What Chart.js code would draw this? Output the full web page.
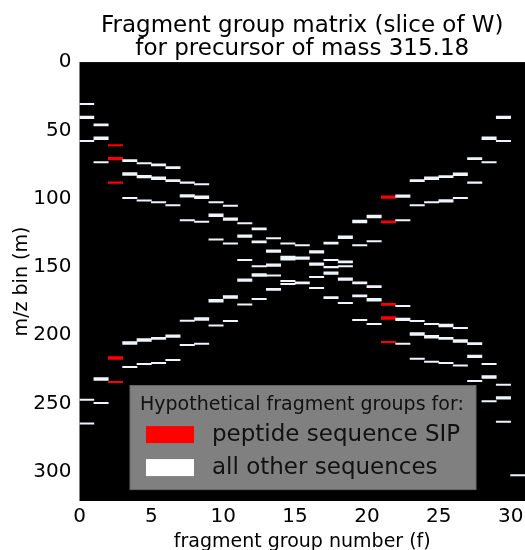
<!DOCTYPE html>
<html>
<head>
<meta charset="utf-8">
<script src="https://cdn.jsdelivr.net/npm/chart.js@4/dist/chart.umd.min.js"></script>
<style>
  html, body { margin: 0; padding: 0; background: #fff; overflow: hidden; }
  #wrap { width: 525px; height: 550px; }
</style>
</head>
<body>
<div id="wrap"><canvas id="matrixChart" width="525" height="550"></canvas></div>
<script>
// fragment group number (f) for each column of the slice
const groupNumbers = [0, 1, 2, 3, 4, 5, 6, 7, 8, 9, 10, 11, 12, 13, 14, 15, 16, 17, 18, 19, 20, 21, 22, 23, 24, 25, 26, 27, 28, 29, 30];

// per column: [m/z bin centre, number of bins]
const otherBins = [
  [[30.7, 1], [40.5, 2], [57.8, 1], [247.3, 1], [264.8, 1]],
  [[46, 1.5], [55.8, 2], [73.4, 1], [232.1, 2], [249.7, 1]],
  [],
  [[72.2, 1.5], [82, 2], [99.6, 1], [205.8, 2], [223.4, 1]],
  [[74.1, 1], [83.9, 2], [101.4, 1], [203.6, 2], [221.1, 1]],
  [[75.3, 1.5], [85.1, 2], [102.6, 1], [202.4, 1.5], [220.4, 1]],
  [[77.3, 1.5], [86.8, 1.5], [104.8, 1], [200.7, 2], [218.3, 1]],
  [[88.3, 1], [98, 2], [115.8, 1], [189.5, 1], [207.3, 1]],
  [[89.5, 1], [99, 2], [117, 1], [188.2, 2], [206.3, 1]],
  [[102.6, 1], [112.2, 2], [130, 1], [174.8, 2], [192.9, 1]],
  [[105.3, 1], [115, 2], [132.9, 1], [172.1, 2], [189.7, 1]],
  [[118, 1], [127.5, 2], [145, 1], [159.7, 2], [177.5, 1]],
  [[122.2, 1.5], [131.7, 1.5], [149.5, 1], [156, 2], [173.6, 1]],
  [[129, 1], [138.5, 2], [148.7, 2], [156.3, 1], [166.5, 1.5]],
  [[132.9, 1], [143.6, 3], [160.4, 1], [162.6, 1]],
  [[134.1, 1], [143.6, 2], [161.7, 1.5]],
  [[139, 2], [148, 2], [157.5, 1], [165.5, 1]],
  [[132.6, 1.5], [145, 1], [150.2, 1], [154.6, 2], [172.6, 1.5]],
  [[128.3, 2], [146.3, 1.5], [149.5, 1], [159, 2], [176.5, 1]],
  [[116.8, 2], [134.1, 1], [161.7, 1.5], [171.2, 1.5], [189, 1]],
  [[113.1, 2], [131.2, 1], [164.4, 1.5], [174.1, 2], [191.9, 1]],
  [],
  [[98.2, 2], [115.8, 1], [178.7, 1], [188.5, 2], [206.3, 1]],
  [[86.8, 1.5], [104.8, 1], [189.6, 1], [199.2, 2], [217.3, 1]],
  [[85.1, 2], [102.6, 1], [191.9, 1], [201.2, 2], [219.5, 1]],
  [[83.9, 1.5], [101.7, 2], [193, 2], [202.4, 1.5], [220.4, 1]],
  [[82.2, 2], [99.6, 1], [194.7, 1], [204.3, 2], [222.2, 1]],
  [[70.7, 1.5], [88.3, 1], [206.3, 1.5], [215.6, 2], [233.6, 1]],
  [[55.8, 2], [73.4, 1], [221.1, 1], [230.7, 2], [248.5, 1]],
  [[40.5, 2], [57.8, 1], [236.4, 1], [246, 2], [263.5, 1]],
  [[302.6, 1]]
];

// groups for the peptide sequence SIP (columns 2 and 21)
const sipBins = [
  [], [],
  [[61, 1], [70.7, 2], [88.3, 1], [216.8, 2], [234.3, 1]],
  [], [], [], [], [], [], [], [], [], [], [], [], [], [], [], [], [], [],
  [[98.9, 2], [117, 1.5], [177.5, 1.5], [187.5, 2], [205.1, 1]],
  [], [], [], [], [], [], [], [], []
];

const xTicks = [0, 5, 10, 15, 20, 25, 30];
const yTicks = [0, 50, 100, 150, 200, 250, 300];
const seriesNames = ["peptide sequence SIP", "all other sequences"];
const legendTitle = "Hypothetical fragment groups for:";

function toBars(bins) {
  const out = [];
  groupNumbers.forEach((f, i) => {
    bins[i].forEach(([m, span]) => {
      out.push({ x: f + 0.5, y: [m - span / 2, m + span / 2] });
    });
  });
  return out;
}

const FONT = "'DejaVu Sans', sans-serif";

const matrixBackground = {
  id: "matrixBackground",
  beforeDraw(chart) {
    const { ctx, chartArea: a } = chart;
    ctx.save();
    ctx.fillStyle = "#ffffff";
    ctx.fillRect(0, 0, chart.width, chart.height);
    ctx.fillStyle = "#000000";
    ctx.fillRect(a.left, a.top, a.right - a.left, a.bottom - a.top);
    ctx.restore();
  }
};

const boxLegend = {
  id: "boxLegend",
  afterDatasetsDraw(chart) {
    const { ctx, chartArea: a } = chart;
    const left = a.left + 50.5, top = a.top + 323.5;
    const w = 346, h = 104;
    ctx.save();
    ctx.fillStyle = "#808080";
    ctx.strokeStyle = "#6a6a6a";
    ctx.lineWidth = 1;
    ctx.fillRect(left, top, w, h);
    ctx.strokeRect(left, top, w, h);

    ctx.fillStyle = "#111111";
    ctx.textBaseline = "middle";
    ctx.textAlign = "left";
    ctx.font = "19px " + FONT;
    ctx.fillText(legendTitle, left + 10, top + 19);

    const colors = ["#ff0000", "#ffffff"];
    seriesNames.forEach((name, i) => {
      const cy = top + 49 + i * 33;
      ctx.fillStyle = colors[i];
      ctx.fillRect(left + 16, cy - 8.5, 48, 17);
      ctx.fillStyle = "#111111";
      ctx.font = "23px " + FONT;
      ctx.fillText(name, left + 82, cy);
    });
    ctx.restore();
  }
};

const ctx = document.getElementById("matrixChart").getContext("2d");

new Chart(ctx, {
  type: "bar",
  data: {
    datasets: [
      {
        label: seriesNames[1],
        data: toBars(otherBins),
        backgroundColor: "#eef6fc",
        borderWidth: 0
      },
      {
        label: seriesNames[0],
        data: toBars(sipBins),
        backgroundColor: "#ff0000",
        borderWidth: 0
      }
    ]
  },
  options: {
    responsive: false,
    animation: false,
    grouped: false,
    barPercentage: 1,
    categoryPercentage: 1,
    layout: { padding: { left: 0, right: 0, top: 0, bottom: 0 } },
    plugins: {
      legend: { display: false },
      tooltip: { enabled: false },
      title: {
        display: true,
        fullSize: false,
        text: ["Fragment group matrix (slice of W)", "for precursor of mass 315.18"],
        color: "#000000",
        font: { family: FONT, size: 23, weight: "normal", lineHeight: 0.98 },
        padding: { top: 15, bottom: 2 }
      }
    },
    scales: {
      x: {
        type: "linear",
        offset: false,
        min: 0,
        max: 31,
        grid: { display: false, drawTicks: false },
        border: { display: false },
        ticks: {
          includeBounds: false,
          stepSize: 5,
          autoSkip: false,
          maxRotation: 0,
          color: "#000000",
          padding: 4,
          font: { family: FONT, size: 20 }
        },
        afterBuildTicks(scale) {
          scale.ticks = xTicks.map(v => ({ value: v }));
        },
        title: {
          display: true,
          text: "fragment group number (f)",
          color: "#000000",
          font: { family: FONT, size: 19, lineHeight: 1 },
          padding: { top: 0, bottom: -2 }
        },
        afterFit(scale) {
          scale.paddingRight = 0;
          scale.paddingLeft = 0;
          scale.height = 49;
        }
      },
      y: {
        type: "linear",
        reverse: true,
        min: 0,
        max: 321.5,
        grid: { display: false, drawTicks: false },
        border: { display: false },
        ticks: {
          includeBounds: false,
          stepSize: 50,
          color: "#000000",
          padding: 8,
          font: { family: FONT, size: 20 }
        },
        afterBuildTicks(scale) {
          scale.ticks = yTicks.map(v => ({ value: v }));
        },
        title: {
          display: true,
          text: "m/z bin (m)",
          color: "#000000",
          font: { family: FONT, size: 19, lineHeight: 1 },
          padding: { top: 13, bottom: 0 }
        },
        afterFit(scale) {
          scale.width = 79.5;
          scale.paddingTop = 0;
          scale.paddingBottom = 0;
        }
      }
    }
  },
  plugins: [matrixBackground, boxLegend]
});
</script>
</body>
</html>
